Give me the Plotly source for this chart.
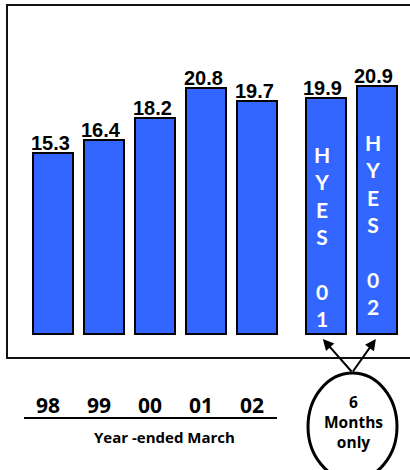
import plotly.graph_objects as go

# ---- data ----
categories = ["98", "99", "00", "01", "02", "HYES 01", "HYES 02"]
x_pos = [0, 1, 2, 3, 4, 5.35, 6.35]
values = [15.3, 16.4, 18.2, 20.8, 19.7, 19.9, 20.9]
value_labels = ["15.3", "16.4", "18.2", "20.8", "19.7", "19.9", "20.9"]
year_labels = ["98", "99", "00", "01", "02"]
inner_labels = {5: "H<br>Y<br>E<br>S<br> <br>0<br>1", 6: "H<br>Y<br>E<br>S<br> <br>0<br>2"}
axis_title = "Year -ended March"
circle_text = "6<br>Months<br>only"

W, H = 410, 470
BAR = "#3366FF"
HUM = "Lato"
SANS = "Open Sans"
ARIAL = "Liberation Sans"

def px(xp):
    return xp / W

def py(yp):
    return 1 - yp / H

fig = go.Figure()
fig.add_trace(go.Bar(
    x=x_pos, y=values, width=0.78,
    marker=dict(color=BAR, line=dict(color="#000000", width=2)),
    hoverinfo="skip", showlegend=False,
))

ann = []
for xv, v, t in zip(x_pos, values, value_labels):
    ann.append(dict(x=xv, y=v, text="<b>%s</b>" % t, showarrow=False,
                    xanchor="center", yanchor="middle", xshift=-3, yshift=10,
                    font=dict(family=ARIAL, size=20, color="#000000")))
for i, t in inner_labels.items():
    ann.append(dict(x=x_pos[i], y=values[i], text="<b>%s</b>" % t, showarrow=False,
                    xanchor="center", yanchor="top", xshift=-4, yshift=-42,
                    font=dict(family=HUM, size=21, color="#FFFFFF")))
for xv, t in zip(x_pos[:5], year_labels):
    ann.append(dict(x=xv, y=0, text="<b>%s</b>" % t, showarrow=False,
                    xanchor="center", yanchor="middle", xshift=-5, yshift=-71,
                    font=dict(family=SANS, size=21, color="#000000")))
ann.append(dict(x=px(164), y=py(437), xref="paper", yref="paper", text="<b>%s</b>" % axis_title,
                showarrow=False, xanchor="center", yanchor="middle",
                font=dict(family=SANS, size=15, color="#000000")))
ann.append(dict(x=px(353), y=py(422), xref="paper", yref="paper", text="<b>%s</b>" % circle_text,
                showarrow=False, xanchor="center", yanchor="middle",
                font=dict(family=SANS, size=15.5, color="#000000")))
# arrows from circle to the two half-year bars
for i, axp in ((5, 30), (6, -24)):
    ann.append(dict(x=x_pos[i], y=0, text="", showarrow=True, yshift=-5, xshift=-3 if i == 5 else -1,
                    ax=axp, ay=34, arrowhead=2, arrowsize=1.1, arrowwidth=2,
                    arrowcolor="#000000"))

shapes = [
    dict(type="rect", xref="paper", yref="paper", x0=px(7), x1=px(430), y0=py(358), y1=py(5),
         line=dict(color="#111111", width=2), fillcolor="rgba(0,0,0,0)", layer="below"),
    dict(type="line", xref="paper", yref="paper", x0=px(24), x1=px(277), y0=py(418), y1=py(418),
         line=dict(color="#000000", width=2)),
    dict(type="circle", xref="paper", yref="paper", x0=px(308), x1=px(397), y0=py(480), y1=py(373),
         line=dict(color="#000000", width=3), fillcolor="#FFFFFF"),
]

y0_px, scale = 334, 11.85
fig.update_layout(
    width=W, height=H,
    margin=dict(l=0, r=0, t=0, b=0),
    paper_bgcolor="#FFFFFF", plot_bgcolor="rgba(0,0,0,0)",
    xaxis=dict(range=[-53 / 51, (W - 53) / 51], visible=False, fixedrange=True),
    yaxis=dict(range=[(y0_px - H) / scale, y0_px / scale], visible=False, fixedrange=True),
    annotations=ann, shapes=shapes, bargap=0,
)
fig.write_html("out.html", config={"displayModeBar": False})
